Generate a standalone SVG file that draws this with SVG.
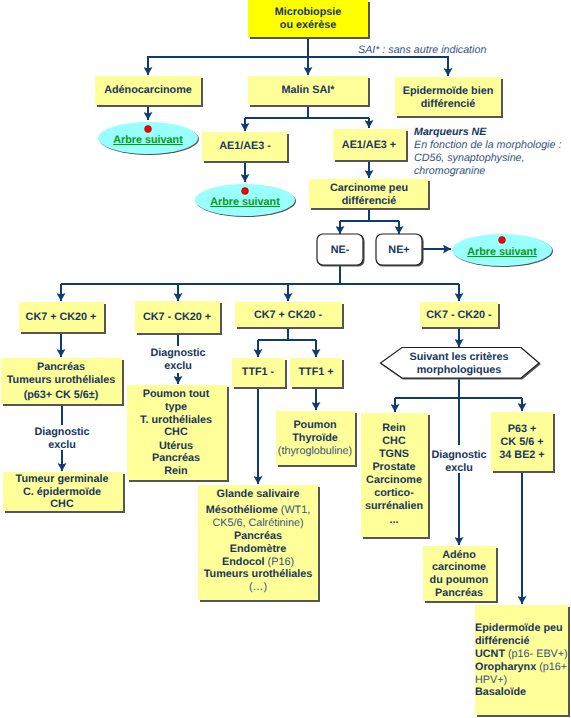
<svg xmlns="http://www.w3.org/2000/svg" width="571" height="718" viewBox="0 0 571 718">
<style>
text{font-family:"Liberation Sans",Arial,sans-serif;font-size:10.8px;font-weight:700;fill:#17365d;text-anchor:middle;text-rendering:geometricPrecision}
.n{font-weight:400;fill:#34527f}
.i{font-style:italic;font-weight:400;fill:#34527f;text-anchor:start;font-size:10.7px}
.b{fill:#ffff99;filter:drop-shadow(2px 2px .6px #555)}
.t{fill:#ffff00;filter:drop-shadow(2px 2px .6px #555)}
.o{fill:#99ffff;filter:drop-shadow(1px 1.5px .6px #555)}
.w{fill:#fff;stroke:#222;stroke-width:1.2;filter:drop-shadow(1px 1px .6px #555)}
.l{fill:#0b9a0b;text-decoration:underline;font-size:10.8px}
.d{fill:#f00;stroke:#800;stroke-width:.6}
.c{fill:none;stroke:#0f3b73;stroke-width:2;marker-end:url(#a)}
.p{fill:none;stroke:#0f3b73;stroke-width:2}
.g{fill:#fff}
.s{text-anchor:start}
</style>
<defs><marker id="a" markerUnits="userSpaceOnUse" markerWidth="9" markerHeight="9" refX="8" refY="4.5" orient="auto"><path d="M0 0L8 4.5L0 9L1.500 4.500Z" fill="#0f3b73"/></marker></defs>
<g id="connectors">
<path class="p" d="M308 37V57M148 75V57H448V76"/><path class="c" d="M148 58V75"/><path class="c" d="M308 37V75"/><path class="c" d="M448 58V76"/>
<path class="c" d="M148 105V120"/>
<path class="p" d="M308 105V118M245 118H369"/><path class="c" d="M245 118V131"/><path class="c" d="M369 118V128"/>
<path class="c" d="M245 161V182"/>
<path class="c" d="M369 160V178"/>
<path class="p" d="M369 208V221M340 221H399"/><path class="c" d="M340 221V234"/><path class="c" d="M399 221V234"/>
<path class="c" d="M422 249H451"/>
<path class="p" d="M340 265V284M61 284H459"/><path class="c" d="M61 284V301"/><path class="c" d="M178 284V301"/><path class="c" d="M288 284V301"/><path class="c" d="M459 284V301"/>
<path class="c" d="M61 331V357"/>
<path class="p" d="M62 404V425"/><path class="c" d="M62 450V471"/>
<path class="p" d="M178 333V346"/><path class="c" d="M178 373V384"/>
<path class="p" d="M288 327V340M258 340H316"/><path class="c" d="M258 340V357"/><path class="c" d="M316 340V357"/>
<path class="c" d="M316 387V410"/>
<path class="c" d="M258 387V484"/>
<path class="c" d="M459 327V347"/>
<path class="p" d="M459 378V398M395 398H522"/><path class="c" d="M395 398V412"/><path class="c" d="M522 398V411"/>
<path class="c" d="M459 378V545"/>
<path class="c" d="M522 471V604"/>
</g>
<g id="note-sai"><text class="i" x="358" y="53">SAI* : sans autre indication</text></g>
<g id="note-ne"><text class="i" x="414" y="135" style="font-weight:700;fill:#17365d">Marqueurs NE</text><text class="i" x="414" y="148">En fonction de la morphologie :</text><text class="i" x="414" y="161">CD56, synaptophysine,</text><text class="i" x="414" y="174">chromogranine</text></g>
<g id="n-micro"><rect class="t" x="248" y="0" width="120" height="37"/><text x="308" y="15">Microbiopsie</text><text x="308" y="28">ou exérèse</text></g>
<g id="n-adeno"><rect class="b" x="95" y="76" width="106" height="29"/><text x="148" y="93">Adénocarcinome</text></g>
<g id="n-malin"><rect class="b" x="248" y="76" width="120" height="29"/><text x="308" y="93">Malin SAI*</text></g>
<g id="n-epi"><rect class="b" x="395" y="77" width="106" height="39"/><text x="448" y="94">Epidermoïde bien</text><text x="448" y="107">différencié</text></g>
<g id="o-1"><ellipse class="o" cx="148" cy="138" rx="50" ry="16"/><circle class="d" cx="148" cy="129" r="3.4"/><text class="l" x="148" y="143">Arbre suivant</text></g>
<g id="n-ae-"><rect class="b" x="202" y="132" width="85" height="29"/><text x="245" y="149">AE1/AE3 -</text></g>
<g id="n-ae+"><rect class="b" x="333" y="129" width="73" height="31"/><text x="369" y="148">AE1/AE3 +</text></g>
<g id="o-2"><ellipse class="o" cx="245" cy="200" rx="50" ry="16"/><circle class="d" cx="245" cy="191" r="3.4"/><text class="l" x="245" y="205">Arbre suivant</text></g>
<g id="n-carc"><rect class="b" x="309" y="179" width="119" height="29"/><text x="369" y="191">Carcinome peu</text><text x="369" y="204">différencié</text></g>
<g id="n-ne-"><rect class="w" x="317" y="234" width="46" height="31" rx="6"/><text x="340" y="253">NE-</text></g>
<g id="n-ne+"><rect class="w" x="376" y="234" width="46" height="31" rx="6"/><text x="399" y="253">NE+</text></g>
<g id="o-3"><ellipse class="o" cx="502" cy="250" rx="50" ry="16"/><circle class="d" cx="502" cy="240" r="3.4"/><text class="l" x="502" y="255">Arbre suivant</text></g>
<g id="n-pp"><rect class="b" x="19" y="302" width="85" height="30"/><text x="61" y="320">CK7 + CK20 +</text></g>
<g id="n-mp"><rect class="b" x="135" y="301" width="85" height="32"/><text x="177" y="320">CK7 - CK20 +</text></g>
<g id="n-pm"><rect class="b" x="235" y="302" width="107" height="25"/><text x="288" y="318">CK7 + CK20 -</text></g>
<g id="n-mm"><rect class="b" x="420" y="302" width="78" height="25"/><text x="459" y="318">CK7 - CK20 -</text></g>
<g id="n-pan"><rect class="b" x="1" y="358" width="121" height="46"/><text x="61" y="370">Pancréas</text><text x="61" y="383">Tumeurs urothéliales</text><text x="61" y="398">(p63+ CK 5/6±)</text></g>
<g id="l-1"><text x="62" y="435">Diagnostic</text><text x="62" y="448">exclu</text></g>
<g id="n-tum"><rect class="b" x="3" y="472" width="120" height="39"/><text x="62" y="482">Tumeur germinale</text><text x="62" y="495">C. épidermoïde</text><text x="62" y="507">CHC</text></g>
<g id="l-2"><text x="178" y="356">Diagnostic</text><text x="178" y="369">exclu</text></g>
<g id="n-poumon"><rect class="b" x="127" y="385" width="100" height="95"/><text x="176" y="397">Poumon tout</text><text x="176" y="410">type</text><text x="176" y="423">T. urothéliales</text><text x="176" y="435">CHC</text><text x="176" y="449">Utérus</text><text x="176" y="461">Pancréas</text><text x="176" y="474">Rein</text></g>
<g id="n-ttf-"><rect class="b" x="232" y="358" width="53" height="29"/><text x="258" y="375">TTF1 -</text></g>
<g id="n-ttf+"><rect class="b" x="290" y="358" width="52" height="29"/><text x="316" y="375">TTF1 +</text></g>
<g id="n-thy"><rect class="b" x="276" y="411" width="79" height="54"/><text x="315" y="428">Poumon</text><text x="315" y="441">Thyroïde</text><text class="n" x="315" y="454">(thyroglobuline)</text></g>
<g id="n-glande"><rect class="b" x="198" y="485" width="120" height="115"/><text x="258" y="497">Glande salivaire</text><text x="258" y="513">Mésothéliome <tspan class="n">(WT1,</tspan></text><text class="n" x="258" y="526">CK5/6, Calrétinine)</text><text x="258" y="539">Pancréas</text><text x="258" y="552">Endomètre</text><text x="258" y="565">Endocol <tspan class="n">(P16)</tspan></text><text x="258" y="577">Tumeurs urothéliales</text><text x="258" y="590" class="n">(…)</text></g>
<g id="n-crit"><path class="w" d="M380.500 363L402 347.500H521L539 363L521 378H402Z"/><text x="459" y="360">Suivant les critères</text><text x="459" y="373">morphologiques</text></g>
<g id="n-rein"><rect class="b" x="361" y="413" width="67" height="124"/><text x="394" y="431">Rein</text><text x="394" y="444">CHC</text><text x="394" y="457">TGNS</text><text x="394" y="470">Prostate</text><text x="394" y="483">Carcinome</text><text x="394" y="496">cortico-</text><text x="394" y="509">surrénalien</text><text x="394" y="523">...</text></g>
<g id="l-3"><rect class="g" x="431" y="445" width="57" height="28"/><text x="459" y="458">Diagnostic</text><text x="459" y="471">exclu</text></g>
<g id="n-p63"><rect class="b" x="491" y="412" width="62" height="59"/><text x="522" y="432">P63 +</text><text x="522" y="445">CK 5/6 +</text><text x="522" y="458">34 BE2 +</text></g>
<g id="n-ad"><rect class="b" x="423" y="546" width="73" height="55"/><text x="459" y="558">Adéno</text><text x="459" y="570">carcinome</text><text x="459" y="583">du poumon</text><text x="459" y="596">Pancréas</text></g>
<g id="n-epi2"><rect class="b" x="475" y="605" width="93" height="110"/><text class="s" x="475" y="631">Epidermoïde peu</text><text class="s" x="475" y="644">différencié</text><text class="s" x="475" y="657">UCNT <tspan class="n">(p16- EBV+)</tspan></text><text class="s" x="475" y="670">Oropharynx <tspan class="n">(p16+</tspan></text><text class="n s" x="475" y="683">HPV+)</text><text class="s" x="475" y="695">Basaloïde</text></g>
</svg>
